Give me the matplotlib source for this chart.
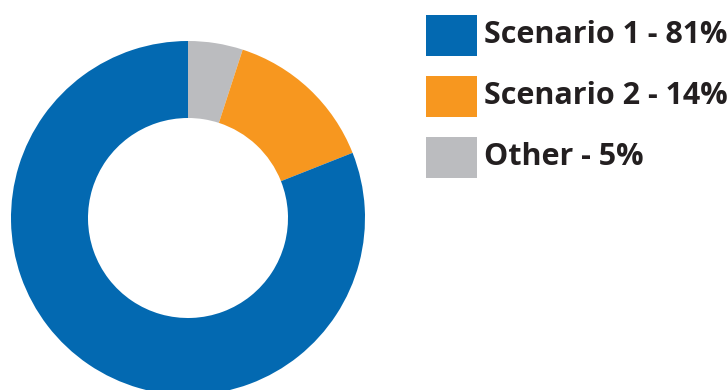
import matplotlib
matplotlib.use("Agg")
import matplotlib.pyplot as plt
from matplotlib.patches import Rectangle

categories = ["Scenario 1", "Scenario 2", "Other"]
shares = [81, 14, 5]
colors = ["#0369b1", "#f7971f", "#bbbcbf"]

W, H = 727, 390
fig = plt.figure(figsize=(W / 100, H / 100), dpi=100)
fig.patch.set_facecolor("white")

# donut axes: centre at (188, 218) px from top-left, outer radius 177 px
cx, cy, r = 188, 218, 177
ax = fig.add_axes([(cx - r) / W, (H - cy - r) / H, 2 * r / W, 2 * r / H])

# draw clockwise from 12 o'clock, smallest share first
wedges, _ = ax.pie(
    shares[::-1],
    colors=colors[::-1],
    startangle=90,
    counterclock=False,
    radius=1.0,
    wedgeprops=dict(width=77 / 177, linewidth=0),
)
ax.set_xlim(-1, 1)
ax.set_ylim(-1, 1)
ax.set_aspect("equal")
ax.axis("off")

# legend: colour swatch + bold label per category
labels = [f"{c} - {v}%" for c, v in zip(categories, shares)]
x0, top0, pitch = 426, 15, 61
sw, sh = 51, 41
for i, (lab, col) in enumerate(zip(labels, colors)):
    top = top0 + i * pitch
    fig.patches.append(
        Rectangle((x0 / W, (H - top - sh) / H), sw / W, sh / H,
                  transform=fig.transFigure, facecolor=col, edgecolor="none")
    )
    fig.text(484 / W, (H - top - 28) / H, lab, ha="left", va="baseline",
             family="Open Sans", weight="bold", fontsize=22, color="#231f20")

fig.savefig("out.png", dpi=100, facecolor="white")
